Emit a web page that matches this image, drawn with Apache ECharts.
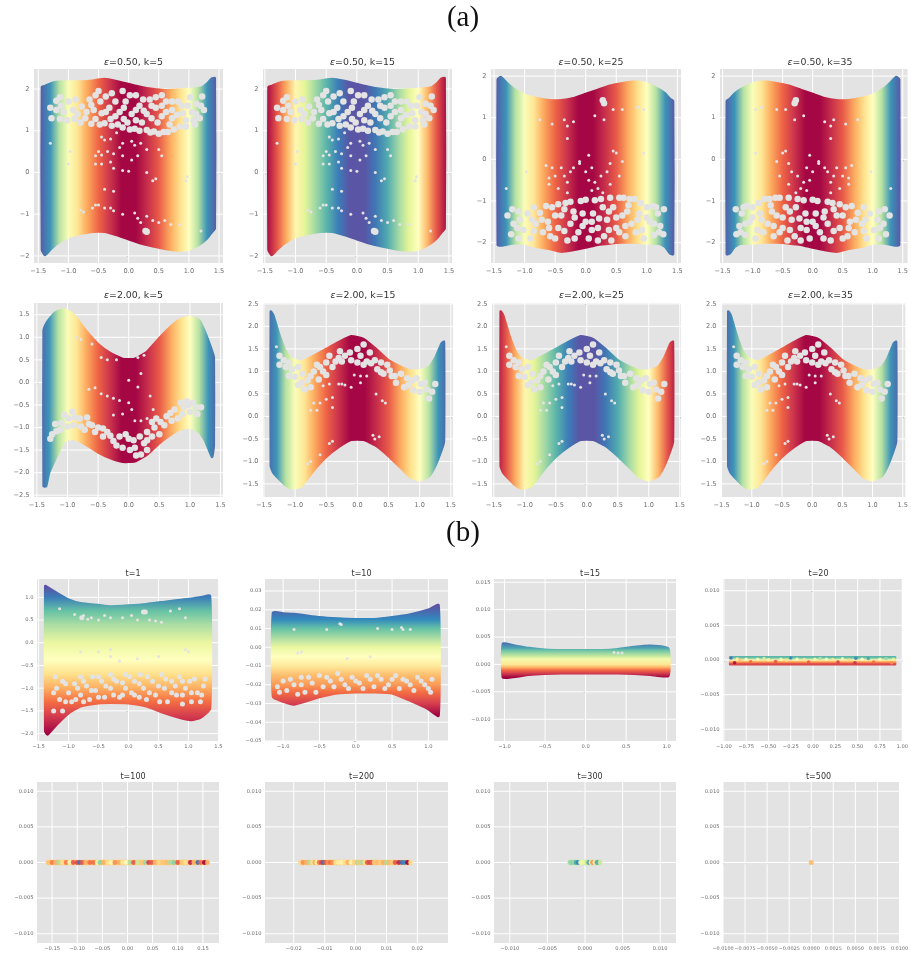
<!DOCTYPE html>
<html><head><meta charset="utf-8">
<style>html,body{margin:0;padding:0;background:#fff}#c{width:911px;height:955px;filter:blur(.4px)}</style>
<script src="https://cdn.jsdelivr.net/npm/echarts@6/dist/echarts.min.js"></script>
</head><body><div id="c"></div>
<script>
// ---------- colour scale values (0 = dark red ... 1 = deep purple)
const spectral=['#9e0142','#d53e4f','#f46d43','#fdae61','#fee08b','#ffffbf','#e6f598','#abdda4','#66c2a5','#3288bd','#5e4fa2'];
const stopX=[-1.46,-1.3,-1.15,-1.0,-.85,-.7,-.5,-.3,-.12,.12,.3,.5,.7,.85,1.0,1.15,1.3,1.46];
const tBlueEdge=[.97,.88,.68,.52,.42,.3,.18,.08,.01,.01,.07,.16,.3,.4,.5,.68,.88,.98];
const tRedEdge=[.02,.15,.3,.47,.6,.7,.82,.92,.99,.99,.93,.84,.7,.6,.5,.32,.15,.02];
const stopY9=[1.25,1.0,.7,.4,0,-.38,-.7,-1.0,-1.3,-1.6,-2.02];
const tY9=[1,.92,.8,.7,.58,.5,.4,.3,.2,.1,0];
const stopY10=[.0225,.015,.01,.005,0,-.005,-.01,-.015,-.02,-.024,-.03,-.0365];
const tY10=[1,.9,.8,.7,.58,.5,.43,.33,.27,.2,.1,0];
const stopY11=[.004,.003,.0025,.0015,.001,0,-.0005,-.001,-.0015,-.0024];
const tY11=[.95,.85,.78,.65,.55,.42,.32,.2,.12,0];
const stopY12=[.0004,.0002,0,-.0002,-.0004,-.00055];
const tY12=[.82,.72,.48,.32,.22,.12];
const stopFlat=[.0004,-.0004];
const tFlat13=[.36,.36];
const tFlat15=[.68,.68];

// ---------- outlines
const xsA=[-1.44,-1.39,-1.3,-1.2,-1,-.8,-.6,-.4,-.2,0,.2,.4,.6,.8,1,1.2,1.3,1.38,1.43];
const topA=[2.05,2.07,2.13,2.17,2.18,2.18,2.2,2.24,2.19,2.12,2.05,2,1.97,1.98,2,2.03,2.13,2.25,2.26];
const botA=[-1.85,-1.98,-1.85,-1.72,-1.55,-1.47,-1.42,-1.42,-1.5,-1.6,-1.7,-1.77,-1.83,-1.87,-1.85,-1.7,-1.58,-1.43,-1.35];
const top3=[1.92,1.98,1.85,1.72,1.55,1.47,1.42,1.42,1.47,1.57,1.67,1.77,1.83,1.87,1.82,1.68,1.58,1.45,1.4];
const bot3=[-2.05,-2.07,-2.05,-2.02,-2.02,-2.1,-2.15,-2.22,-2.18,-2.12,-2.05,-2.02,-2,-2,-2.02,-2.03,-2.1,-2.26,-2.28];
const xs4=[-1.43,-1.38,-1.3,-1.2,-1,-.8,-.6,-.4,-.2,0,.2,.4,.6,.8,1,1.2,1.3,1.39,1.44];
const top4=[1.4,1.45,1.58,1.68,1.82,1.87,1.83,1.77,1.67,1.57,1.47,1.42,1.42,1.47,1.55,1.72,1.85,1.98,1.92];
const bot4=[-2.28,-2.26,-2.1,-2.03,-2.02,-2,-2,-2.02,-2.05,-2.12,-2.18,-2.22,-2.15,-2.1,-2.02,-2.02,-2.05,-2.07,-2.05];
const xs5=[-1.39,-1.35,-1.3,-1.2,-1.05,-.9,-.7,-.5,-.3,-.1,.1,.3,.5,.7,.85,1,1.15,1.25,1.36,1.39];
const top5=[1.15,1.3,1.4,1.55,1.62,1.5,1.15,.85,.65,.52,.52,.68,.98,1.25,1.4,1.45,1.38,1.1,.7,.55];
const bot5=[-2.3,-2.3,-2,-1.7,-1.3,-1.25,-1.38,-1.55,-1.68,-1.76,-1.75,-1.6,-1.35,-1.15,-1.03,-1,-1.1,-1.3,-1.65,-1.4];
const xs6=[-1.39,-1.35,-1.25,-1.15,-1.05,-.9,-.7,-.5,-.3,-.1,.1,.3,.5,.7,.85,1,1.15,1.25,1.35,1.39];
const top6=[2.33,2.25,1.8,1.45,1.28,1.22,1.35,1.5,1.65,1.78,1.72,1.5,1.25,1.1,1.02,1.02,1.1,1.3,1.62,1.66];
const bot6=[-1.1,-1.25,-1.4,-1.53,-1.6,-1.55,-1.2,-.9,-.68,-.52,-.52,-.65,-.88,-1.15,-1.35,-1.42,-1.33,-1.1,-.75,-.55];
const xs9=[-1.39,-1.35,-1.2,-1,-.8,-.5,-.3,0,.3,.6,.9,1.05,1.2,1.36];
const top9=[1.25,1.22,1.1,.95,.87,.83,.8,.82,.85,.9,.95,.97,1,1.03];
const bot9=[-1.95,-2.02,-1.8,-1.55,-1.4,-1.33,-1.32,-1.33,-1.4,-1.55,-1.67,-1.7,-1.65,-1.45];
const xs10=[-1.14,-1,-.85,-.5,-.25,0,.25,.5,.75,1,1.14];
const top10=[.0185,.018,.0178,.016,.0153,.015,.015,.016,.0175,.02,.0225];
const bot10=[-.0265,-.029,-.0305,-.0265,-.0245,-.024,-.024,-.0245,-.0285,-.033,-.0365];
const xs11=[-1.02,-.9,-.7,-.5,-.3,0,.2,.4,.6,.8,1.02];
const top11=[.0038,.0035,.003,.0027,.0026,.0026,.0026,.0028,.0032,.0034,.0029];
const bot11=[-.0024,-.0023,-.0019,-.0017,-.0016,-.0016,-.0016,-.0016,-.0017,-.0019,-.0021];
const xs12=[-.93,.92];
const top12=[.0004,.0004];
const bot12=[-.0006,-.0006];
const xs13=[-.158,.159];
const xs14=[-.0178,.0178];
const xs15=[-.002,.002];
const topFlat=[.0002,.0002];
const botFlat=[-.0002,-.0002];

// ---------- gaps in the point cloud
const bigA=[[-1.2,1.72],[-1.12,1.6],[-1.2,1.5],[-1.08,1.45],[-1,1.7],[-.92,1.5],[-.9,1.28],[-.78,1.58],[-.72,1.3],[-.65,1.75],[-.58,1.5],[-.55,1.28],[-.5,1.95],[-.47,1.7],[-.45,1.42],[-.4,1.18],[-.32,1.55],[-.3,1.28],[-.28,1.9],[-.18,1.15],[-.15,1.45],[-.1,1.95],[-.05,1.7],[-.02,1.2],[.05,1.4],[.1,1.05],[.12,1.85],[.18,1.6],[.22,1.2],[.3,1.02],[.3,1.4],[.35,1.75],[.42,.98],[.45,1.55],[.48,1.2],[.55,1.85],[.58,.97],[.62,1.45],[.68,1.15],[.72,1.7],[.8,1.38],[.85,1.1],[.88,1.6],[.95,1.25],[1.02,1.8],[1.05,1.45],[1.12,1.65],[1.18,1.3],[1.22,1.82],[1.25,1.5],[-1.28,1.3],[-1.3,1.55],[.28,-1.4],[.3,-1.42]];
const moreA=[[-1.14,1.28],[-1.02,1.25],[-.8,1.2],[-.62,1.17],[-.48,1.15],[-.28,1.12],[-.1,1.08],[.02,1.03],[.18,1],[.36,.96],[.5,.93],[.65,.97],[.75,1.03],[.95,1.1],[1.1,1.15],[-1.14,1.8],[-.88,1.75],[-.85,1.4],[-.7,1.45],[-.62,1.62],[-.55,1.85],[-.38,1.82],[-.38,1.45],[-.22,1.7],[-.22,1.35],[-.08,1.55],[-.08,1.28],[.02,1.85],[.12,1.25],[.12,1.5],[.24,1.75],[.25,1.48],[.38,1.3],[.38,1.6],[.45,1.8],[.55,1.35],[.55,1.6],[.62,1.7],[.72,1.3],[.72,1.5],[.82,1.7],[.9,1.42],[.98,1.6],[1.08,1.25],[1.12,1.4],[1.2,1.6]];
const smallA=[[-.45,.85],[-.4,.78],[-.3,.8],[-.2,.95],[-.5,.5],[-.55,.4],[-.45,.42],[-.35,.5],[-.25,.45],[-.15,.6],[-.1,.4],[-.55,.2],[-.45,.2],[-.3,.25],[-.25,.1],[-.1,.7],[.05,.75],[.1,.65],[.2,.7],[.05,.3],[.15,.4],[.3,.55],[.5,.55],[.55,.4],[-.1,.05],[0,.03],[.3,0],[.4,-.2],[.45,-.15],[.95,-.2],[.97,-.1],[-1,.2],[-.97,.5],[-1.3,.7],[-.4,-.4],[-.25,-.45],[-.25,-.92],[-.1,-1],[.1,-.97],[.4,-1.15],[.5,-1.2],[.6,-1.15],[.7,-1.25],[1.2,-1.4],[-.8,-.9],[-.75,-.95],[-.6,-.85],[-.55,-.78],[-.5,-.78],[-.4,-.85],[-.3,-.85],[.15,-1.1],[.2,-1.2],[.3,-1.05],[.85,-1.25]];
const big3=[[-1.28,-1.35],[-1.2,-1.2],[-1.18,-1.55],[-1.22,-1.8],[-1.08,-1.45],[-1.02,-1.7],[-.95,-1.3],[-.9,-1.9],[-.82,-1.55],[-.75,-1.28],[-.7,-1.75],[-.62,-1.5],[-.55,-1.15],[-.5,-1.9],[-.45,-1.65],[-.4,-1.35],[-.33,-1.05],[-.3,-1.95],[-.25,-1.55],[-.2,-1.25],[-.12,-1.75],[-.08,-1],[0,-1.5],[.05,-1.9],[.12,-1.3],[.15,-.98],[.2,-1.65],[.28,-1.15],[.3,-1.85],[.35,-1.45],[.42,-1.95],[.45,-1.15],[.5,-1.65],[.55,-.92],[.6,-1.35],[.65,-1.85],[.7,-1.1],[.75,-1.55],[.8,-.95],[.88,-1.3],[.92,-1.7],[1,-1.15],[1.05,-1.5],[1.12,-1.82],[1.18,-1.3],[1.22,-1.6],[1.28,-1.2],[1.27,-1.8],[.28,1.42],[.3,1.35]];
const more3=[[-1.1,-1.25],[-.85,-1.15],[-.65,-1.12],[-.45,-1.08],[-.25,-1.02],[0,-.97],[.25,-.95],[.4,-.92],[.62,-.92],[.72,-.95],[.9,-1.05],[1.1,-1.12],[-1.12,-1.65],[-1.1,-1.9],[-.88,-1.45],[-.85,-1.72],[-.72,-1.45],[-.6,-1.65],[-.58,-1.85],[-.5,-1.35],[-.35,-1.72],[-.35,-1.2],[-.18,-1.4],[-.18,-1.9],[-.05,-1.3],[-.05,-1.6],[.1,-1.7],[.1,-1.5],[.22,-1.42],[.2,-1.95],[.38,-1.7],[.38,-1.25],[.5,-1.4],[.55,-1.75],[.65,-1.6],[.68,-1.25],[.82,-1.75],[.85,-1.45],[.95,-1.9],[1,-1.4],[1.12,-1.55],[1.2,-1.75],[1.15,-1.15]];
const small3=[[-.65,-.15],[-.55,-.2],[-.6,-.45],[-.5,-.4],[-.6,-.6],[-.4,-.2],[-.35,-.4],[-.3,-.55],[-.25,-.3],[-.45,-.7],[-.3,-.8],[-.2,-.2],[-.1,-.1],[0,-.3],[.1,-.2],[.05,.1],[-.1,-.05],[.05,-.5],[.15,-.55],[.1,-.75],[.25,-.4],[.35,-.3],[.4,-.1],[.45,.2],[.5,.15],[.55,-.4],[.6,-.05],[.4,-.6],[.95,.15],[-.97,-.3],[-.3,.5],[-1.3,-.7],[.28,-.8],[.2,-.7],[-.55,.85],[-.3,.8],[.3,.95],[.45,1.2],[.6,1.2],[.95,1.2],[-.2,.9],[-.75,.95],[-.35,.95],[.15,1.05],[.85,1.25]];
const big4=[[1.28,-1.35],[1.2,-1.2],[1.18,-1.55],[1.22,-1.8],[1.08,-1.45],[1.02,-1.7],[.95,-1.3],[.9,-1.9],[.82,-1.55],[.75,-1.28],[.7,-1.75],[.62,-1.5],[.55,-1.15],[.5,-1.9],[.45,-1.65],[.4,-1.35],[.33,-1.05],[.3,-1.95],[.25,-1.55],[.2,-1.25],[.12,-1.75],[.08,-1],[0,-1.5],[-.05,-1.9],[-.12,-1.3],[-.15,-.98],[-.2,-1.65],[-.28,-1.15],[-.3,-1.85],[-.35,-1.45],[-.42,-1.95],[-.45,-1.15],[-.5,-1.65],[-.55,-.92],[-.6,-1.35],[-.65,-1.85],[-.7,-1.1],[-.75,-1.55],[-.8,-.95],[-.88,-1.3],[-.92,-1.7],[-1,-1.15],[-1.05,-1.5],[-1.12,-1.82],[-1.18,-1.3],[-1.22,-1.6],[-1.28,-1.2],[-1.27,-1.8],[-.28,1.42],[-.3,1.35]];
const more4=[[1.1,-1.25],[.85,-1.15],[.65,-1.12],[.45,-1.08],[.25,-1.02],[0,-.97],[-.25,-.95],[-.4,-.92],[-.62,-.92],[-.72,-.95],[-.9,-1.05],[-1.1,-1.12],[1.12,-1.65],[1.1,-1.9],[.88,-1.45],[.85,-1.72],[.72,-1.45],[.6,-1.65],[.58,-1.85],[.5,-1.35],[.35,-1.72],[.35,-1.2],[.18,-1.4],[.18,-1.9],[.05,-1.3],[.05,-1.6],[-.1,-1.7],[-.1,-1.5],[-.22,-1.42],[-.2,-1.95],[-.38,-1.7],[-.38,-1.25],[-.5,-1.4],[-.55,-1.75],[-.65,-1.6],[-.68,-1.25],[-.82,-1.75],[-.85,-1.45],[-.95,-1.9],[-1,-1.4],[-1.12,-1.55],[-1.2,-1.75],[-1.15,-1.15]];
const small4=[[.65,-.15],[.55,-.2],[.6,-.45],[.5,-.4],[.6,-.6],[.4,-.2],[.35,-.4],[.3,-.55],[.25,-.3],[.45,-.7],[.3,-.8],[.2,-.2],[.1,-.1],[0,-.3],[-.1,-.2],[-.05,.1],[.1,-.05],[-.05,-.5],[-.15,-.55],[-.1,-.75],[-.25,-.4],[-.35,-.3],[-.4,-.1],[-.45,.2],[-.5,.15],[-.55,-.4],[-.6,-.05],[-.4,-.6],[-.95,.15],[.97,-.3],[.3,.5],[1.3,-.7],[-.28,-.8],[-.2,-.7],[.55,.85],[.3,.8],[-.3,.95],[-.45,1.2],[-.6,1.2],[-.95,1.2],[.2,.9],[.75,.95],[.35,.95],[-.15,1.05],[-.85,1.25]];
const big5=[[-1.25,-1.15],[-1.18,-1.08],[-1.1,-.9],[-1.05,-.72],[-.98,-.8],[-.92,-.65],[-.9,-.95],[-.8,-.8],[-.72,-1.05],[-.65,-.92],[-.55,-1.1],[-.5,-1],[-.42,-1.2],[-.35,-1.1],[-.25,-1.3],[-.15,-1.2],[-.1,-1.45],[0,-1.25],[.02,-1.5],[.1,-1.45],[.18,-1.2],[.2,-1.6],[.25,-1.35],[.3,-1.5],[.3,-1.1],[.42,-1],[.45,-.8],[.5,-1.15],[.58,-.95],[.62,-.75],[.7,-.85],[.75,-.6],[.8,-.8],[.9,-.55],[.95,-.42],[1,-.65],[1.05,-.45],[1.12,-.7],[1.18,-.55],[-1.2,-.92]];
const more5=[[-1.28,-1.25],[-1.12,-1.05],[-1,-.98],[-.88,-.78],[-.78,-.98],[-.68,-.78],[-.6,-.95],[-.42,-1.02],[-.3,-1.18],[-.2,-1.4],[-.05,-1.15],[.08,-1.28],[.12,-1.62],[.3,-1.28],[.38,-1.2],[.38,-.88],[.52,-.88],[.68,-.68],[.88,-.7],[.98,-.5],[1.1,-.55],[.85,-.45]];
const small5=[[-.85,1],[-.78,.95],[-.6,.85],[-.45,.55],[-.35,.5],[-.2,.5],[.15,.55],[.25,.6],[.2,.2],[-.65,-.15],[-.55,-.12],[-.45,-.25],[-.35,-.3],[-.25,-.35],[-.15,-.4],[0,-.45],[.05,-.6],[-.1,-.7],[-.25,-.72],[.1,-.85],[.2,-.85],[.3,-.8],[.4,-.6],[.35,-.3],[0,.05],[.15,-.1]];
const big6=[[-1.25,1.35],[-1.18,1.25],[-1.15,1.1],[-1.05,1.05],[-1,.88],[-.95,.7],[-.88,.95],[-.85,.6],[-.8,.8],[-.7,1],[-.62,.82],[-.6,1.1],[-.55,1],[-.45,1.35],[-.4,1.1],[-.35,1.22],[-.28,1.45],[-.2,1.35],[-.1,1.25],[0,1.5],[.05,1.35],[.1,1.6],[.15,1.22],[.2,1.42],[.28,1.25],[.32,1.05],[.42,.95],[.48,1.15],[.55,.9],[.62,.75],[.7,.95],[.75,.65],[.82,.7],[.9,.58],[.95,.85],[1,.55],[1.08,.75],[1.15,.4],[1.25,.72],[.1,1.15]];
const more6=[[-1.25,1.15],[-1.1,1.2],[-1.1,.9],[-.95,1.1],[-.9,.75],[-.75,.9],[-.75,.65],[-.65,1.15],[-.5,1.2],[-.5,.92],[-.3,1.3],[-.25,1.22],[-.12,1.42],[0,1.2],[.22,1.18],[.38,1.2],[.38,.98],[.52,1.02],[.6,.9],[.8,.85],[.88,.8],[1.02,.72],[1.12,.6],[1.2,.55]];
const small6=[[-1.3,1.55],[-.55,.68],[-.45,.72],[-.3,.72],[-.2,.7],[-.05,.92],[.05,.9],[.15,.9],[-.1,.65],[-.25,.72],[-.4,.42],[-.5,.38],[-.6,.3],[-.7,.3],[-.75,.14],[-.65,.14],[-.4,.2],[.3,.5],[.4,.35],[.45,.3],[.25,-.42],[.35,-.45],[.28,-.5],[-.4,-.55],[-.45,-.6],[-.6,-.85],[-.75,-1],[-.8,-1.05],[.05,.75]];
const big9=[[-1.2,-1],[-1.15,-1.25],[-1.1,-.85],[-1,-1.1],[-.95,-1.3],[-.9,-.9],[-.8,-.75],[-.8,-1.15],[-.7,-.95],[-.65,-1.25],[-.6,-.75],[-.55,-1.05],[-.45,-.85],[-.4,-1.2],[-.3,-.7],[-.3,-1],[-.2,-.85],[-.15,-1.2],[-.05,-.7],[-.05,-1],[.1,-.85],[.1,-1.15],[.2,-.7],[.25,-1],[.3,-1.25],[.4,-.85],[.45,-1.15],[.55,-.7],[.6,-1],[.65,-1.3],[.72,-.85],[.8,-1.15],[.85,-.75],[.9,-1.35],[.95,-1],[1.05,-1.3],[1.1,-.8],[1.15,-1.1],[1.25,-.95],[1.2,-1.3],[-1.25,-1.5],[-1.1,-1.5],[-1.22,-.75],[.25,.68],[.28,.68],[-.78,.55]];
const more9=[[-1.25,-1.1],[-1.05,-.9],[-1.05,-1.3],[-.85,-1],[-.88,-1.25],[-.75,-.85],[-.75,-1.3],[-.62,-1.05],[-.5,-.75],[-.5,-1.2],[-.38,-.95],[-.25,-.8],[-.25,-1.15],[-.1,-.88],[-.1,-1.15],[.02,-.75],[.05,-1.1],[.18,-.9],[.18,-1.2],[.32,-.75],[.35,-1.1],[.5,-.95],[.52,-1.3],[.62,-.8],[.72,-1.1],[.78,-.95],[.9,-.85],[.9,-1.15],[1.02,-.85],[1.05,-1.1],[1.22,-1.15],[1.28,-.8]];
const small9=[[-.9,.62],[-.75,.6],[-.62,.55],[-.5,.5],[-.4,.6],[-.3,.55],[-.1,.55],[.05,.6],[.15,.5],[.35,.5],[.45,.48],[.55,.45],[.7,.7],[.85,.75],[.95,.55],[-1.15,.75],[-.8,-.2],[-.5,-.2],[-.3,-.3],[-.3,-.15],[.15,-.35],[.95,-.15],[1,-.2],[.5,-.3],[-.15,-.4],[-.68,.52]];
const big10=[[-1,-.018],[-.95,-.023],[-.85,-.02],[-.75,-.016],[-.7,-.024],[-.6,-.019],[-.5,-.015],[-.45,-.021],[-.35,-.018],[-.25,-.014],[-.15,-.02],[-.05,-.016],[.05,-.019],[.15,-.015],[.25,-.021],[.35,-.017],[.45,-.02],[.55,-.015],[.6,-.022],[.7,-.018],[.8,-.023],[.85,-.016],[.95,-.02],[1.03,-.024],[1.05,-.017],[-1.08,-.021]];
const more10=[[-1.05,-.024],[-.9,-.017],[-.8,-.025],[-.65,-.016],[-.55,-.024],[-.4,-.016],[-.3,-.021],[-.2,-.017],[-.1,-.022],[0,-.018],[.1,-.022],[.2,-.017],[.3,-.015],[.4,-.022],[.5,-.017],[.65,-.017],[.75,-.02],[.9,-.018],[1,-.022],[-.75,-.02]];
const small10=[[-.22,.0125],[-.2,.0122],[.63,.0105],[.65,.0095],[.5,.0095],[.3,.01],[-.8,-.003],[-.75,-.0025],[-.12,-.006],[.2,-.005],[-.4,.0095],[-.85,.0095],[.75,.0095]];
const small11=[[.35,.0022],[.4,.0021],[.45,.0021]];

// ---------- individually visible points [x, y, colour value]
const dots12=[[-.92,.0003,.95],[-.85,.00015,.45],[-.88,-.0004,.02],[-.82,0,.35],[-.75,.00012,.5],[-.7,-.00025,.2],[-.62,.0001,.48],[-.55,.0002,.62],[-.5,.00005,.45],[-.42,-.0002,.15],[-.36,.00012,.55],[-.3,0,.4],[-.25,.0003,.9],[-.18,.0001,.5],[-.1,.00008,.42],[-.05,-.0003,.15],[.02,.00012,.55],[.08,.0002,.68],[.15,.0001,.5],[.22,.00008,.42],[.28,-.0003,.1],[.33,.00018,.55],[.4,0,.38],[.47,-.0004,.08],[.48,.00025,.9],[.55,.0001,.5],[.62,.00022,.85],[.68,-.0003,.2],[.75,.0001,.48],[.82,.0002,.72],[.88,-.0004,.25],[.9,.0001,.6]];
const dots13=[[-.158,0,.35],[-.15,0,.22],[-.143,0,.3],[-.137,0,.7],[-.13,0,.4],[-.122,0,.22],[-.115,0,.48],[-.108,0,.15],[-.1,0,.12],[-.095,0,.95],[-.09,0,.15],[-.083,0,.3],[-.075,0,.2],[-.068,0,.2],[-.06,0,.48],[-.055,0,.75],[-.048,0,.3],[-.04,0,.4],[-.033,0,.48],[-.025,0,.25],[-.017,0,.3],[-.01,0,.42],[-.003,0,.5],[.005,0,.7],[.012,0,.15],[.02,0,.65],[.028,0,.35],[.035,0,.72],[.042,0,.1],[.048,0,.15],[.055,0,.3],[.062,0,.38],[.07,0,.35],[.078,0,.33],[.085,0,.7],[.092,0,.75],[.1,0,.15],[.108,0,.35],[.115,0,.4],[.125,0,.05],[.132,0,.3],[.14,0,.95],[.146,0,.2],[.153,0,0],[.159,0,.3]];
const dots14=[[-.0178,0,.38],[-.017,0,.25],[-.016,0,.3],[-.015,0,.7],[-.014,0,.4],[-.0132,0,.3],[-.0125,0,.48],[-.0118,0,.2],[-.011,0,.12],[-.0105,0,.95],[-.0098,0,.15],[-.009,0,.25],[-.0082,0,.2],[-.0075,0,.25],[-.0065,0,.4],[-.0055,0,.45],[-.0045,0,.48],[-.0035,0,.4],[-.0025,0,.3],[-.0015,0,.48],[-.0005,0,.38],[.0005,0,.7],[.0012,0,.35],[.002,0,.7],[.003,0,.4],[.0038,0,.15],[.0045,0,.12],[.0052,0,.15],[.006,0,.35],[.007,0,.33],[.008,0,.36],[.009,0,.3],[.01,0,.7],[.0108,0,.32],[.0118,0,.35],[.0128,0,.15],[.014,0,.05],[.015,0,.95],[.0158,0,.9],[.0168,0,0],[.0178,0,.4]];
const dots15=[[-.002,0,.72],[-.0017,0,.75],[-.0014,0,.7],[-.0012,0,.85],[-.0009,0,.9],[-.0006,0,.55],[-.0003,0,.55],[0,0,.6],[.0003,0,.65],[.0005,0,.85],[.0008,0,.55],[.001,0,.25],[.0013,0,.45],[.0016,0,.85],[.002,0,.65]];
const dots16=[[0,0,.32]];

// ---------- tick labels
const t15=[-1.5,-1,-.5,0,.5,1,1.5];
const t1=[-1,-.5,0,.5,1];
const y4=[-2,-1,0,1,2];
const y5=[-2.5,-2,-1.5,-1,-.5,0,.5,1,1.5];
const y6=[-1.5,-1,-.5,0,.5,1,1.5,2,2.5];
const y9=[-2,-1.5,-1,-.5,0,.5,1];
const y10=[-.05,-.04,-.03,-.02,-.01,0,.01,.02,.03];
const y11=[-.01,-.005,0,.005,.01,.015];
const y01=[-.01,-.005,0,.005,.01];
const x12=[-1,-.75,-.5,-.25,0,.25,.5,.75,1];
const x13=[-.15,-.1,-.05,0,.05,.1,.15];
const x14=[-.02,-.01,0,.01,.02];
const x16=[-.01,-.0075,-.005,-.0025,0,.0025,.005,.0075,.01];

// ---------- panel titles
const titles=['ε=0.50, k=5','ε=0.50, k=15','ε=0.50, k=25','ε=0.50, k=35','ε=2.00, k=5','ε=2.00, k=15','ε=2.00, k=25','ε=2.00, k=35','t=1','t=10','t=15','t=20','t=100','t=200','t=300','t=500'];

function lerpColor(t){
  const p=Math.max(0,Math.min(1,t))*10,i=Math.min(9,Math.floor(p)),f=p-i;
  const h=s=>[1,3,5].map(k=>parseInt(s.substr(k,2),16));
  const a=h(spectral[i]),b=h(spectral[i+1]);
  return 'rgb('+a.map((v,k)=>Math.round(v+(b[k]-v)*f)).join(',')+')';
}

const R=[[69,263],[303,497],[579,741],[782,943]];
const C=[[[34,223],[263,452],[491,681],[720,910]],[[34,223],[263,453],[492,681],[721,910]],[[37,219],[265,448],[494,676],[723,904]],[[37,219],[265,448],[494,676],[723,904]]];
const panels=[
 {x:[-1.571,1.566],y:[-2.17,2.48],xt:t15,yt:y4,d:1,e:0,xs:xsA,top:topA,bot:botA,dir:'x',sv:stopX,st:tBlueEdge,big:bigA.concat(moreA),small:smallA},
 {x:[-1.53,1.55],y:[-2.17,2.48],xt:t15,yt:y4,d:1,e:0,xs:xsA,top:topA,bot:botA,dir:'x',sv:stopX,st:tRedEdge,big:bigA.concat(moreA),small:smallA},
 {x:[-1.55,1.56],y:[-2.49,2.17],xt:t15,yt:y4,d:1,e:0,xs:xsA,top:top3,bot:bot3,dir:'x',sv:stopX,st:tBlueEdge,big:big3.concat(more3),small:small3},
 {x:[-1.543,1.58],y:[-2.49,2.17],xt:t15,yt:y4,d:1,e:0,xs:xs4,top:top4,bot:bot4,dir:'x',sv:stopX,st:tBlueEdge,big:big4.concat(more4),small:small4},
 {x:[-1.547,1.54],y:[-2.54,1.76],xt:t15,yt:y5,d:1,e:1,xs:xs5,top:top5,bot:bot5,dir:'x',sv:stopX,st:tBlueEdge,big:big5.concat(more5),small:small5},
 {x:[-1.515,1.535],y:[-1.79,2.52],xt:t15,yt:y6,d:1,e:1,xs:xs6,top:top6,bot:bot6,dir:'x',sv:stopX,st:tBlueEdge,big:big6.concat(more6),small:small6},
 {x:[-1.53,1.52],y:[-1.79,2.52],xt:t15,yt:y6,d:1,e:1,xs:xs6,top:top6,bot:bot6,dir:'x',sv:stopX,st:tRedEdge,big:big6.concat(more6),small:small6},
 {x:[-1.51,1.543],y:[-1.79,2.52],xt:t15,yt:y6,d:1,e:1,xs:xs6,top:top6,bot:bot6,dir:'x',sv:stopX,st:tBlueEdge,big:big6.concat(more6),small:small6},
 {x:[-1.527,1.51],y:[-2.163,1.404],xt:t15,yt:y9,d:1,e:1,xs:xs9,top:top9,bot:bot9,dir:'y',sv:stopY9,st:tY9,big:big9.concat(more9),small:small9},
 {x:[-1.25,1.27],y:[-.05,.0364],xt:t1,yt:y10,d:1,e:2,xs:xs10,top:top10,bot:bot10,dir:'y',sv:stopY10,st:tY10,big:big10.concat(more10),small:small10},
 {x:[-1.13,1.115],y:[-.01397,.0156],xt:t1,yt:y11,d:1,e:3,xs:xs11,top:top11,bot:bot11,dir:'y',sv:stopY11,st:tY11,big:[],small:small11},
 {x:[-1.01,1],y:[-.0117,.0117],xt:x12,yt:y01,d:2,e:3,xs:xs12,top:top12,bot:bot12,dir:'y',sv:stopY12,st:tY12,big:[],small:[],dots:dots12},
 {x:[-.18,.182],y:[-.0113,.0113],xt:x13,yt:y01,d:2,e:3,xs:xs13,top:topFlat,bot:botFlat,dir:'y',sv:stopFlat,st:tFlat13,dots:dots13,big:[],small:[]},
 {x:[-.0293,.0299],y:[-.0113,.0113],xt:x14,yt:y01,d:2,e:3,xs:xs14,top:topFlat,bot:botFlat,dir:'y',sv:stopFlat,st:tFlat13,dots:dots14,big:[],small:[]},
 {x:[-.0121,.0121],y:[-.0113,.0113],xt:y01,yt:y01,d:3,e:3,xs:xs15,top:topFlat,bot:botFlat,dir:'y',sv:stopFlat,st:tFlat15,dots:dots15,big:[],small:[]},
 {x:[-.01,.01],y:[-.0113,.0113],xt:x16,yt:y01,d:4,e:3,dots:dots16,big:[],small:[],xfs:4.9}
];
const BG='#e3e3e3';
const fmt=d=>v=>v.toFixed(d).replace('-','\u2212');
const opt={animation:false,backgroundColor:'#fff',grid:[],xAxis:[],yAxis:[],series:[],
 title:[
  {text:'(a)',left:458,top:-1,textAlign:'center',textStyle:{fontFamily:'Liberation Serif',fontSize:29,fontWeight:'normal',color:'#111'}},
  {text:'(b)',left:458,top:514,textAlign:'center',textStyle:{fontFamily:'Liberation Serif',fontSize:29,fontWeight:'normal',color:'#111'}}
 ]};
panels.forEach((p,i)=>{
  const r=Math.floor(i/4),c=i%4,[l,rt]=C[r][c],[t,b]=R[r];
  const fs=r<2?6.6:5.2, tfs=r<2?9.4:8;
  opt.grid.push({left:l,top:t,width:rt-l,height:b-t,show:true,backgroundColor:BG,borderWidth:0,containLabel:false});
  const ax=(lim,ticks,d,size)=>({type:'value',min:lim[0],max:lim[1],
    axisLine:{show:false},
    axisTick:{show:true,length:2,lineStyle:{color:'#999',width:.7},customValues:ticks},
    axisLabel:{customValues:ticks,fontFamily:'DejaVu Sans',fontSize:size||fs,color:'#6f6f6f',margin:r<2?4.5:3.5,formatter:fmt(d),hideOverlap:false,showMinLabel:true,showMaxLabel:true},
    splitLine:{show:false}});
  opt.xAxis.push(Object.assign(ax(p.x,p.xt,p.d,p.xfs),{gridIndex:i}));
  opt.yAxis.push(Object.assign(ax(p.y,p.yt,p.e),{gridIndex:i}));
  opt.title.push({text:titles[i].replace('ε','{i|ε}'),left:(l+rt)/2,top:r===0?t-16:(r===1?t-16.5:t-14),textAlign:'center',
    textStyle:{fontFamily:'DejaVu Sans',fontSize:tfs,fontWeight:'normal',color:'#333',rich:{i:{fontStyle:'italic',fontFamily:'DejaVu Sans',fontSize:tfs,color:'#333'}}}});
  // white grid lines at the tick values
  const gridRows=p.xt.map(v=>[v,0]).concat(p.yt.map(v=>[1,v]));
  opt.series.push({type:'custom',xAxisIndex:i,yAxisIndex:i,silent:true,z:1,clip:true,data:gridRows,encode:{x:0,y:1},
    renderItem(params,api){
      const k=params.dataIndex,q=gridRows[k],isX=k<p.xt.length;
      const a=isX?api.coord([q[0],p.y[0]]):api.coord([p.x[0],q[1]]);
      const e=isX?api.coord([q[0],p.y[1]]):api.coord([p.x[1],q[1]]);
      return {type:'line',shape:{x1:a[0],y1:a[1],x2:e[0],y2:e[1]},style:{stroke:'#fff',lineWidth:1}};
    }});
  if(p.xs){
    const rows=p.xs.map((x,k)=>[x,p.top[k],p.bot[k]]);
    opt.series.push({type:'custom',xAxisIndex:i,yAxisIndex:i,silent:true,z:2,data:rows,encode:{x:0,y:[1,2]},clip:false,
      renderItem(params,api){
        if(params.dataIndex!==0) return null;
        const pts=rows.map(q=>api.coord([q[0],q[1]])).concat(rows.slice().reverse().map(q=>api.coord([q[0],q[2]])));
        const n=p.sv.length,vmin=p.sv[0],vmax=p.sv[n-1];
        const a=api.coord(p.dir==='x'?[vmin,p.y[0]]:[p.x[0],vmin]),e=api.coord(p.dir==='x'?[vmax,p.y[0]]:[p.x[0],vmax]);
        const grad={type:'linear',global:true,x:a[0],y:a[1],x2:e[0],y2:e[1],
          colorStops:p.sv.map((v,k)=>({offset:(v-vmin)/(vmax-vmin),color:lerpColor(p.st[k])}))};
        return {type:'polygon',shape:{points:pts,smooth:rows.length>4?.15:0},style:{fill:grad,stroke:grad,lineWidth:2.5,lineJoin:'round'}};
      }});
  }
  const hole=(data,size)=>{ if(data.length) opt.series.push({type:'scatter',xAxisIndex:i,yAxisIndex:i,silent:true,data,symbolSize:size,itemStyle:{color:BG,opacity:1},z:3}); };
  hole(p.big,r<2?6.5:5);
  hole(p.small,3);
  if(p.dots) opt.series.push({type:'scatter',xAxisIndex:i,yAxisIndex:i,silent:true,data:p.dots,symbolSize:i===11?3.5:(i===15?5:4.8),
    itemStyle:{opacity:.9,color:q=>lerpColor(q.data[2])},z:4});
});
echarts.init(document.getElementById('c')).setOption(opt);
</script></body></html>
